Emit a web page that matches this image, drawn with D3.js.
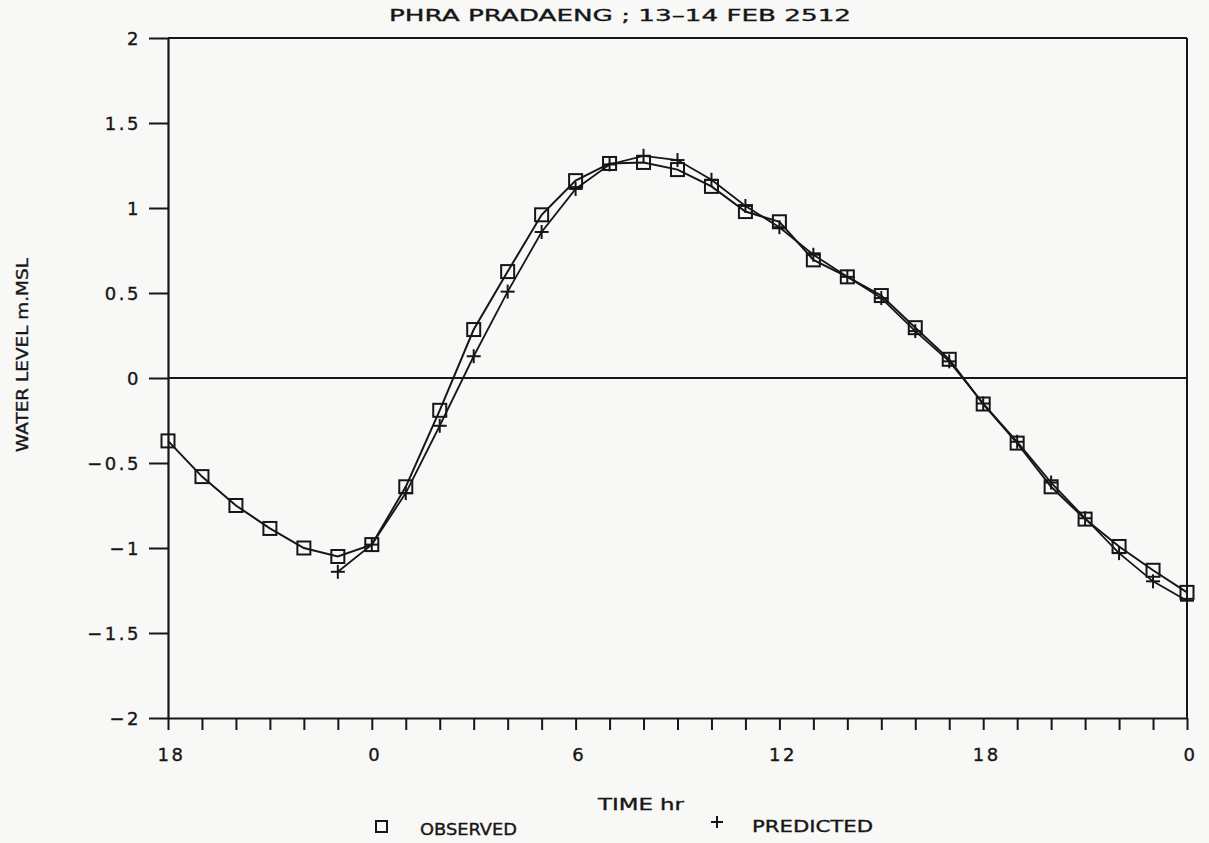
<!DOCTYPE html>
<html><head><meta charset="utf-8">
<script src="https://cdn.jsdelivr.net/npm/d3@7"></script>
<style>
html,body{margin:0;padding:0;background:#f8f8f7;}
svg{display:block;}
svg text{font-family:"DejaVu Sans",sans-serif;}
</style>
</head><body>
<svg id="chart" width="1209" height="843"></svg>
<script>
// ---- data ----
const chartTitle = "PHRA PRADAENG ; 13–14 FEB 2512";
const xAxisTitle = "TIME hr";
const yAxisTitle = "WATER LEVEL m.MSL";
const seriesNames = ["OBSERVED", "PREDICTED"];

// hours elapsed since 18:00 on 13 Feb
const observedHours = [0,1,2,3,4,5,6,7,8,9,10,11,12,13,14,15,16,17,18,19,20,21,22,23,24,25,26,27,28,29,30];
const observedLevels = [-0.37,-0.58,-0.75,-0.885,-1.0,-1.05,-0.98,-0.64,-0.19,0.285,0.626,0.96,1.161,1.262,1.268,1.226,1.127,0.979,0.919,0.695,0.595,0.485,0.296,0.11,-0.153,-0.383,-0.64,-0.83,-0.991,-1.131,-1.261];

const predictedHours = [5,6,7,8,9,10,11,12,13,14,15,16,17,18,19,20,21,22,23,24,25,26,27,28,29,30];
const predictedLevels = [-1.14,-0.98,-0.677,-0.281,0.128,0.508,0.859,1.112,1.256,1.307,1.282,1.166,1.012,0.887,0.725,0.595,0.47,0.276,0.098,-0.15,-0.375,-0.615,-0.825,-1.03,-1.196,-1.31];

const xTickHours = [0,1,2,3,4,5,6,7,8,9,10,11,12,13,14,15,16,17,18,19,20,21,22,23,24,25,26,27,28,29,30];
const xLabelHours = [0,6,12,18,24,30];
const xLabelTexts = ["18","0","6","12","18","0"];
const yTickValues = [-2,-1.5,-1,-0.5,0,0.5,1,1.5,2];
const yTickTexts = ["−2","−1.5","−1","−0.5","0","0.5","1","1.5","2"];

// ---- drawing ----
const ink = "#161616";
const FONT = '"DejaVu Sans", sans-serif';
const svg = d3.select("#chart");
const x = d3.scaleLinear().domain([0, 30]).range([168, 1187]);
const y = d3.scaleLinear().domain([-2, 2]).range([718, 38]);

// x axis
const xAxis = d3.axisBottom(x)
  .tickValues(xTickHours)
  .tickSize(12).tickSizeOuter(0).tickPadding(18)
  .tickFormat(h => { const i = xLabelHours.indexOf(h); return i >= 0 ? xLabelTexts[i] : ""; });
const gx = svg.append("g").attr("transform", `translate(0,${y(-2)})`).call(xAxis);

// y axis
const yAxis = d3.axisLeft(y)
  .tickValues(yTickValues)
  .tickSize(19).tickSizeOuter(0).tickPadding(8)
  .tickFormat(v => yTickTexts[yTickValues.indexOf(v)]);
const gy = svg.append("g").attr("transform", `translate(${x(0)},0)`).call(yAxis);

[gx, gy].forEach(g => {
  g.attr("font-family", FONT).attr("font-size", 18);
  g.selectAll("path.domain").attr("stroke", ink).attr("stroke-width", 2.2);
  g.selectAll(".tick line").attr("stroke", ink).attr("stroke-width", 2);
  g.selectAll(".tick text").attr("fill", ink)
    .attr("stroke", ink).attr("stroke-width", 0.35)
    .style("font-family", FONT).style("font-size", "18px").style("letter-spacing", "2.5px");
});
gy.selectAll(".tick text").attr("dy", "0.36em");
gx.selectAll(".tick text").attr("dx", "3px");

// top and right frame
svg.append("line").attr("x1", x(0)).attr("x2", x(30)).attr("y1", y(2)).attr("y2", y(2))
  .attr("stroke", ink).attr("stroke-width", 2.2);
svg.append("line").attr("x1", x(30)).attr("x2", x(30)).attr("y1", y(2)).attr("y2", y(-2))
  .attr("stroke", ink).attr("stroke-width", 2);
// zero line
svg.append("line").attr("x1", x(0)).attr("x2", x(30)).attr("y1", y(0)).attr("y2", y(0))
  .attr("stroke", ink).attr("stroke-width", 1.8);

// series
const observed = observedHours.map((h, i) => ({h, v: observedLevels[i]}));
const predicted = predictedHours.map((h, i) => ({h, v: predictedLevels[i]}));
const line = d3.line().x(d => x(d.h)).y(d => y(d.v));

svg.append("path").datum(observed).attr("d", line)
  .attr("fill", "none").attr("stroke", ink).attr("stroke-width", 2);
svg.append("path").datum(predicted).attr("d", line)
  .attr("fill", "none").attr("stroke", ink).attr("stroke-width", 1.8);

const sq = 13;
svg.append("g").selectAll("rect").data(observed).join("rect")
  .attr("x", d => x(d.h) - sq / 2).attr("y", d => y(d.v) - sq / 2)
  .attr("width", sq).attr("height", sq)
  .attr("fill", "none").attr("stroke", ink).attr("stroke-width", 2);

const arm = 7;
const plus = svg.append("g").selectAll("g").data(predicted).join("g")
  .attr("transform", d => `translate(${x(d.h)},${y(d.v)})`);
plus.append("line").attr("x1", -arm).attr("x2", arm).attr("stroke", ink).attr("stroke-width", 2);
plus.append("line").attr("y1", -arm).attr("y2", arm).attr("stroke", ink).attr("stroke-width", 2);

// texts
function label(t, px) {
  return t.style("font-family", FONT).style("font-size", px + "px")
    .attr("fill", ink).attr("stroke", ink).attr("stroke-width", 0.35)
    .attr("lengthAdjust", "spacingAndGlyphs");
}
label(svg.append("text").attr("x", 389).attr("y", 21).text(chartTitle).attr("textLength", 462), 16);
label(svg.append("text").attr("x", 598).attr("y", 810).text(xAxisTitle).attr("textLength", 86), 16);
label(svg.append("text").attr("transform", "translate(28,452) rotate(-90)").text(yAxisTitle).attr("textLength", 194), 16);

// legend
svg.append("rect").attr("x", 376).attr("y", 821).attr("width", 11).attr("height", 11)
  .attr("fill", "none").attr("stroke", ink).attr("stroke-width", 2);
label(svg.append("text").attr("x", 420).attr("y", 835).text(seriesNames[0]).attr("textLength", 97), 16);
const lp = svg.append("g").attr("transform", "translate(717,822)");
lp.append("line").attr("x1", -6).attr("x2", 6).attr("stroke", ink).attr("stroke-width", 2);
lp.append("line").attr("y1", -6).attr("y2", 6).attr("stroke", ink).attr("stroke-width", 2);
label(svg.append("text").attr("x", 752).attr("y", 832).text(seriesNames[1]).attr("textLength", 121), 16);
</script>
</body></html>
